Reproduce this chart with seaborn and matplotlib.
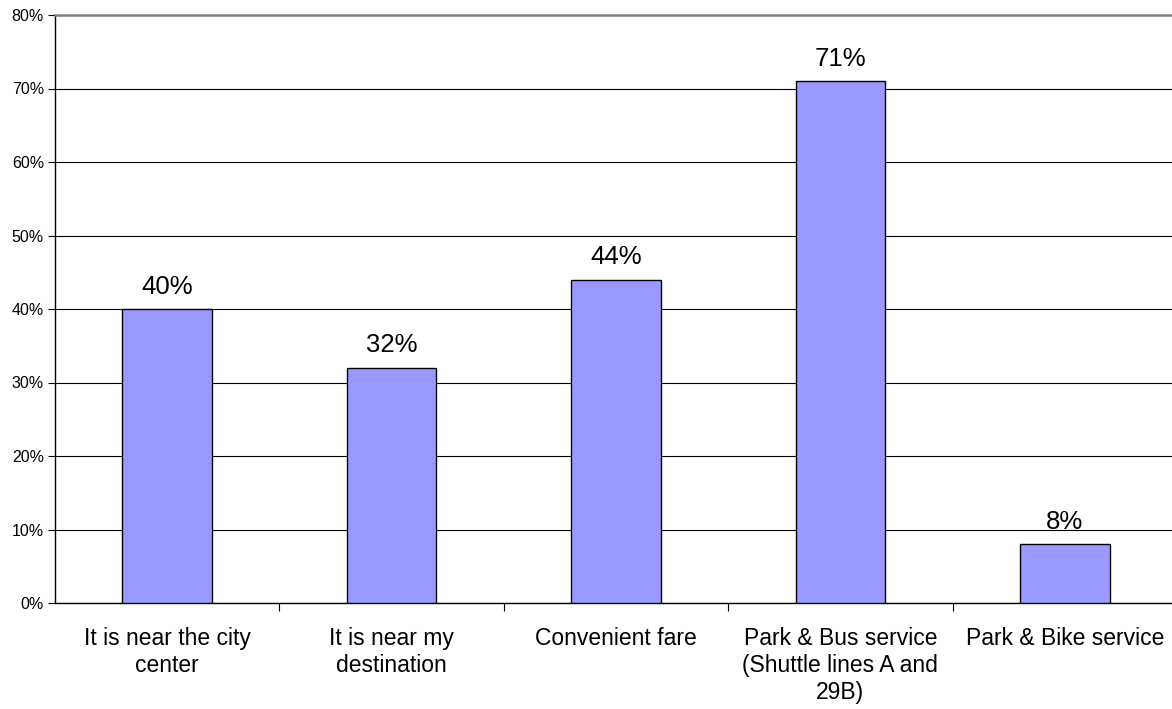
import matplotlib
matplotlib.use("Agg")
import matplotlib.pyplot as plt
import seaborn as sns
import pandas as pd
from matplotlib.ticker import FixedLocator, PercentFormatter

categories = [
    "It is near the city\ncenter",
    "It is near my\ndestination",
    "Convenient fare",
    "Park & Bus service\n(Shuttle lines A and\n29B)",
    "Park & Bike service",
]
values = [40, 32, 44, 71, 8]
value_labels = ["40%", "32%", "44%", "71%", "8%"]
y_ticks = [0, 10, 20, 30, 40, 50, 60, 70, 80]

sns.set_theme(style="white")
plt.rcParams["font.family"] = ["Liberation Sans", "DejaVu Sans"]

df = pd.DataFrame({"cat": categories, "val": values})

fig = plt.figure(figsize=(11.72, 7.09), dpi=100)
W, H = 1172, 709
ax = fig.add_axes([55 / W, (H - 603) / H, (1177 - 55) / W, (603 - 15) / H])

sns.barplot(data=df, x="cat", y="val", color="#9999FF", edgecolor="black",
            linewidth=1.0, width=0.4, saturation=1, ax=ax, zorder=3)

ax.set_xlim(-0.5, 4.5)
ax.set_ylim(0, 80)
ax.set_xlabel("")
ax.set_ylabel("")

ax.yaxis.set_major_locator(FixedLocator(y_ticks))
ax.yaxis.set_major_formatter(PercentFormatter(decimals=0))
ax.grid(axis="y", color="black", linewidth=0.8, zorder=0)
ax.grid(axis="x", visible=False)
ax.set_axisbelow(True)

ax.tick_params(axis="y", which="major", left=True, length=5, width=0.8,
               color="black", labelsize=11.5, pad=3, labelcolor="black")
ax.set_xticks(range(len(categories)))
ax.set_xticklabels(categories)
ax.set_xticks([0.5, 1.5, 2.5, 3.5], minor=True)
ax.tick_params(axis="x", which="major", bottom=False, length=0, pad=17.5,
               labelsize=16.5, labelcolor="black")
ax.tick_params(axis="x", which="minor", bottom=True, length=6, width=0.8,
               color="black")

for sp in ["left", "bottom"]:
    ax.spines[sp].set_visible(True)
    ax.spines[sp].set_color("black")
    ax.spines[sp].set_linewidth(1.0)
ax.spines["right"].set_visible(False)
ax.spines["top"].set_color("#808080")
ax.spines["top"].set_linewidth(1.8)

for i, (v, lab) in enumerate(zip(values, value_labels)):
    ax.annotate(lab, (i, v), xytext=(0, 7.5), textcoords="offset points",
                ha="center", va="bottom", fontsize=18.5, color="black")

fig.savefig("out.png", dpi=100)
